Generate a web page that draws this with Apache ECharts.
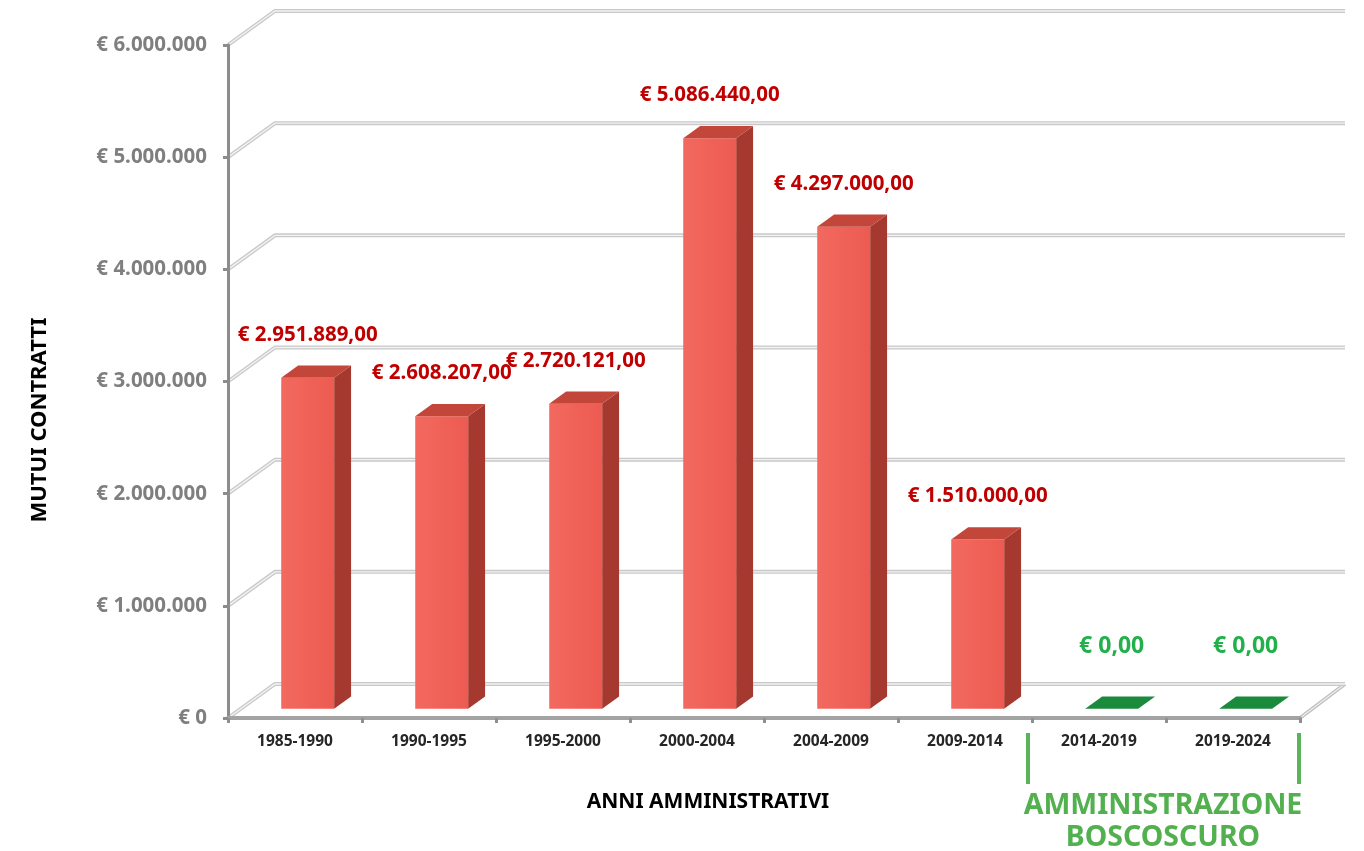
<!DOCTYPE html>
<html>
<head>
<meta charset="utf-8">
<script src="https://cdn.jsdelivr.net/npm/echarts@6/dist/echarts.min.js"></script>
<style>
html,body{margin:0;padding:0;background:#ffffff;}
#chart{width:1364px;height:851px;}
</style>
</head>
<body>
<div id="chart"></div>
<script>
// ---------------- DATA ----------------
const categories = ['1985-1990', '1990-1995', '1995-2000', '2000-2004', '2004-2009', '2009-2014', '2014-2019', '2019-2024'];
const mutuiContratti = [2951889, 2608207, 2720121, 5086440, 4297000, 1510000, 0, 0];
const adminCategories = ['2014-2019', '2019-2024'];
const yTickValues = [0, 1000000, 2000000, 3000000, 4000000, 5000000, 6000000];

const xAxisTitle = 'ANNI AMMINISTRATIVI';
const yAxisTitle = 'MUTUI CONTRATTI';
const adminTitleLines = ['AMMINISTRAZIONE', 'BOSCOSCURO'];

// ---------------- STYLE ----------------
const FONT = 'Noto Sans';
const WALL_DX = 47, WALL_DY = 34;          // oblique depth of the 3D box
const BAR_FRONT_T = 0.27, BAR_BACK_T = 0.63; // bar depth position inside the box
const BAR_RATIO = 0.395;                     // bar width / category width
const LABEL_GAP = 43, ZERO_LABEL_GAP = 62;

const RED = { front: ['#f3695f', '#ec5b51'], side: '#a5392f', top: '#c3463b', label: '#c00000', size: 20.5 };
const GREEN = { front: ['#1f9140', '#1a8a3a'], side: '#136b2c', top: '#1b8a3c', label: '#22b04b', size: 23 };

function fmtThousands(v) {
  return String(Math.round(v)).replace(/\B(?=(\d{3})+(?!\d))/g, '.');
}

function renderWall(params, api) {
  const v = api.value(1);
  const cs = params.coordSys;
  const y = api.coord([0, v])[1];
  const x0 = cs.x, x1 = cs.x + cs.width;
  const pts = [[x0, y], [x0 + WALL_DX, y - WALL_DY], [x1 + WALL_DX - 2, y - WALL_DY]];
  const children = [];
  if (v === 0) {
    const rp = [[x1, y], [x1 + WALL_DX - 2, y - WALL_DY]];
    children.push({ type: 'polyline', shape: { points: rp }, style: { stroke: '#bdbdbd', lineWidth: 3.5, fill: null } });
    children.push({ type: 'polyline', shape: { points: rp }, style: { stroke: '#efefef', lineWidth: 1.2, fill: null } });
  }
  children.push({ type: 'polyline', shape: { points: pts }, style: { stroke: '#c9c9c9', lineWidth: 4, fill: null } });
  children.push({ type: 'polyline', shape: { points: pts }, style: { stroke: '#f2f2f2', lineWidth: 1.4, fill: null } });
  return { type: 'group', children: children };
}

function renderBar(params, api) {
  const i = api.value(0), v = api.value(1);
  const top = api.coord([i, v]);
  const base = api.coord([i, 0]);
  const bw = api.size([1, 0])[0] * BAR_RATIO;
  const ox = WALL_DX * BAR_FRONT_T, oy = -WALL_DY * BAR_FRONT_T;
  const dx = WALL_DX * (BAR_BACK_T - BAR_FRONT_T), dy = -WALL_DY * (BAR_BACK_T - BAR_FRONT_T);
  const x0 = top[0] - bw / 2 + ox, x1 = x0 + bw;
  const yt = top[1] + oy, yb = base[1] + oy;
  const admin = adminCategories.indexOf(categories[i]) >= 0;
  const pal = admin ? GREEN : RED;
  const children = [];
  if (yb - yt > 0.5) {
    children.push({
      type: 'polygon',
      shape: { points: [[x1, yt], [x1 + dx, yt + dy], [x1 + dx, yb + dy], [x1, yb]] },
      style: { fill: pal.side }
    });
    children.push({
      type: 'rect',
      shape: { x: x0, y: yt, width: bw, height: yb - yt },
      style: {
        fill: new echarts.graphic.LinearGradient(0, 0, 1, 0, [
          { offset: 0, color: pal.front[0] }, { offset: 1, color: pal.front[1] }
        ])
      }
    });
  }
  children.push({
    type: 'polygon',
    shape: { points: [[x0, yt], [x1, yt], [x1 + dx, yt + dy], [x0 + dx, yt + dy]] },
    style: { fill: pal.top }
  });
  const gap = v === 0 ? ZERO_LABEL_GAP : LABEL_GAP;
  children.push({
    type: 'text',
    style: {
      x: (x0 + x1) / 2, y: yt - gap,
      text: '€ ' + fmtThousands(v) + ',00',
      fill: pal.label,
      font: 'bold ' + pal.size + 'px "' + FONT + '"',
      align: 'center', verticalAlign: 'middle'
    }
  });
  return { type: 'group', children: children };
}

const chart = echarts.init(document.getElementById('chart'), null, { renderer: 'canvas' });
chart.setOption({
  backgroundColor: '#ffffff',
  animation: false,
  grid: { left: 228, right: 64, top: 45, bottom: 133, containLabel: false },
  xAxis: {
    type: 'category',
    data: categories,
    z: 5,
    axisLine: { show: true, lineStyle: { color: '#a3a3a3', width: 4 } },
    axisTick: { show: true, length: 5, alignWithLabel: false, lineStyle: { color: '#8f8f8f', width: 3 } },
    axisLabel: { color: '#262626', fontFamily: FONT, fontWeight: 'bold', fontSize: 15.5, margin: 16 },
    splitLine: { show: false }
  },
  yAxis: {
    type: 'value',
    min: 0, max: 6000000, interval: 1000000,
    z: 5,
    axisLine: { show: true, lineStyle: { color: '#8c8c8c', width: 3 } },
    axisTick: { show: true, length: 5, lineStyle: { color: '#8c8c8c', width: 3 } },
    axisLabel: {
      color: '#7f7f7f', fontFamily: FONT, fontWeight: 'bold', fontSize: 20.5, margin: 21,
      formatter: function (v) { return '€ ' + fmtThousands(v); }
    },
    splitLine: { show: false }
  },
  series: [
    {
      type: 'custom',
      name: 'wall',
      z: 1,
      silent: true,
      clip: false,
      renderItem: renderWall,
      encode: { x: 0, y: 1 },
      data: yTickValues.map(function (v) { return [0, v]; })
    },
    {
      type: 'custom',
      name: 'Mutui contratti',
      z: 3,
      clip: false,
      renderItem: renderBar,
      encode: { x: 0, y: 1 },
      data: categories.map(function (c, i) { return [i, mutuiContratti[i]]; })
    }
  ],
  graphic: [
    {
      type: 'text', x: 708, y: 802,
      style: { text: xAxisTitle, fill: '#000000', font: 'bold 21px "' + FONT + '"', align: 'center', verticalAlign: 'middle' }
    },
    {
      type: 'text', x: 40, y: 420, rotation: Math.PI / 2,
      style: { text: yAxisTitle, fill: '#000000', font: 'bold 22px "' + FONT + '"', align: 'center', verticalAlign: 'middle' }
    },
    {
      type: 'text', x: 1163, y: 806,
      style: { text: adminTitleLines[0], fill: '#52b04e', font: 'bold 28.5px "' + FONT + '"', align: 'center', verticalAlign: 'middle' }
    },
    {
      type: 'text', x: 1163, y: 838,
      style: { text: adminTitleLines[1], fill: '#52b04e', font: 'bold 28.5px "' + FONT + '"', align: 'center', verticalAlign: 'middle' }
    },
    {
      type: 'line', shape: { x1: 1028, y1: 733, x2: 1028, y2: 784 },
      style: { stroke: '#5ab55a', lineWidth: 4 }
    },
    {
      type: 'line', shape: { x1: 1299, y1: 733, x2: 1299, y2: 784 },
      style: { stroke: '#5ab55a', lineWidth: 4 }
    }
  ]
});
</script>
</body>
</html>
